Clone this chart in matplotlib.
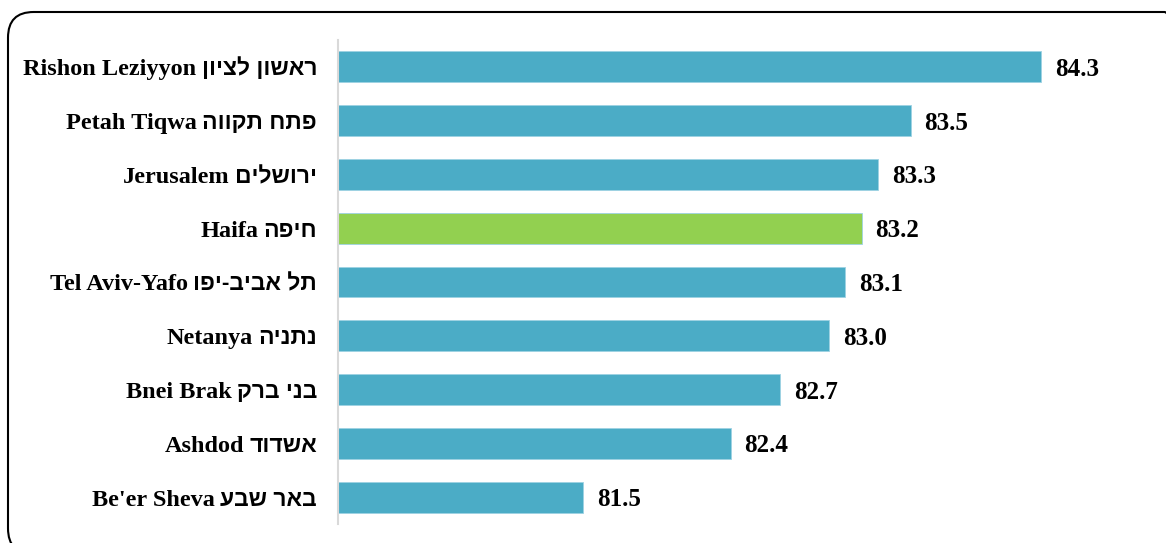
import matplotlib.pyplot as plt
from matplotlib.patches import FancyBboxPatch
from matplotlib.transforms import offset_copy

# city data, top to bottom
cities_en = ["Rishon Leziyyon", "Petah Tiqwa", "Jerusalem", "Haifa", "Tel Aviv-Yafo",
             "Netanya", "Bnei Brak", "Ashdod", "Be'er Sheva"]
cities_he = ["ראשון לציון", "פתח תקווה", "ירושלים", "חיפה", "תל אביב-יפו",
             "נתניה", "בני ברק", "אשדוד", "באר שבע"]
values = [84.3, 83.5, 83.3, 83.2, 83.1, 83.0, 82.7, 82.4, 81.5]
highlight = "Haifa"

W, H = 1166, 543
fig = plt.figure(figsize=(W / 100, H / 100), dpi=100)
fig.patch.set_facecolor("white")

# rounded frame around the whole chart (runs off the right/bottom edge)
frame = FancyBboxPatch((8 / W, 1 - 554 / H), (1190 - 8) / W, (554 - 12) / H,
                       boxstyle="round,pad=0,rounding_size=0.022",
                       mutation_aspect=W / H, transform=fig.transFigure,
                       facecolor="none", edgecolor="black", linewidth=1.5,
                       clip_on=False)
fig.patches.append(frame)

ax = fig.add_axes([338 / W, 19 / H, 818 / W, 484 / H])

latin = ["Liberation Serif", "DejaVu Serif"]
hebrew = ["Liberation Sans", "DejaVu Sans"]
n = len(values)
ypos = list(range(n))[::-1]
colors_ = ["#92D050" if c == highlight else "#4BACC6" for c in cities_en]

ax.barh(ypos, [v - 80 for v in values], left=80, height=0.575, color=colors_,
        edgecolor="#9ED2E3", linewidth=0.6)

for y, v in zip(ypos, values):
    ax.text(v + 0.085, y, f"{v:.1f}", va="center_baseline", ha="left", fontsize=18,
            fontweight="bold", family=latin)

ax.set_xticks([])
ax.set_yticks([])
ax.set_xlim(80, 85)
ax.set_ylim(-0.5, n - 0.5)

# labels: hebrew (reversed for right-to-left display) at the right, english before it
renderer = fig.canvas.get_renderer()
ytrans = ax.get_yaxis_transform()
for y, en, he in zip(ypos, cities_en, cities_he):
    t_he = ax.text(0, y, he[::-1], ha="right", va="baseline", fontsize=16.5,
                   fontweight="bold", family=hebrew,
                   transform=offset_copy(ytrans, fig, x=-21, y=-8.5, units="dots"))
    w = t_he.get_window_extent(renderer).width
    ax.text(0, y, en, ha="right", va="baseline", fontsize=17.5,
            fontweight="bold", family=latin,
            transform=offset_copy(ytrans, fig, x=-21 - w - 5, y=-8.5, units="dots"))

for s in ["top", "right", "bottom"]:
    ax.spines[s].set_visible(False)
ax.spines["left"].set_color("#d9d9d9")
ax.spines["left"].set_linewidth(1.5)

fig.savefig("out.png", dpi=100)
